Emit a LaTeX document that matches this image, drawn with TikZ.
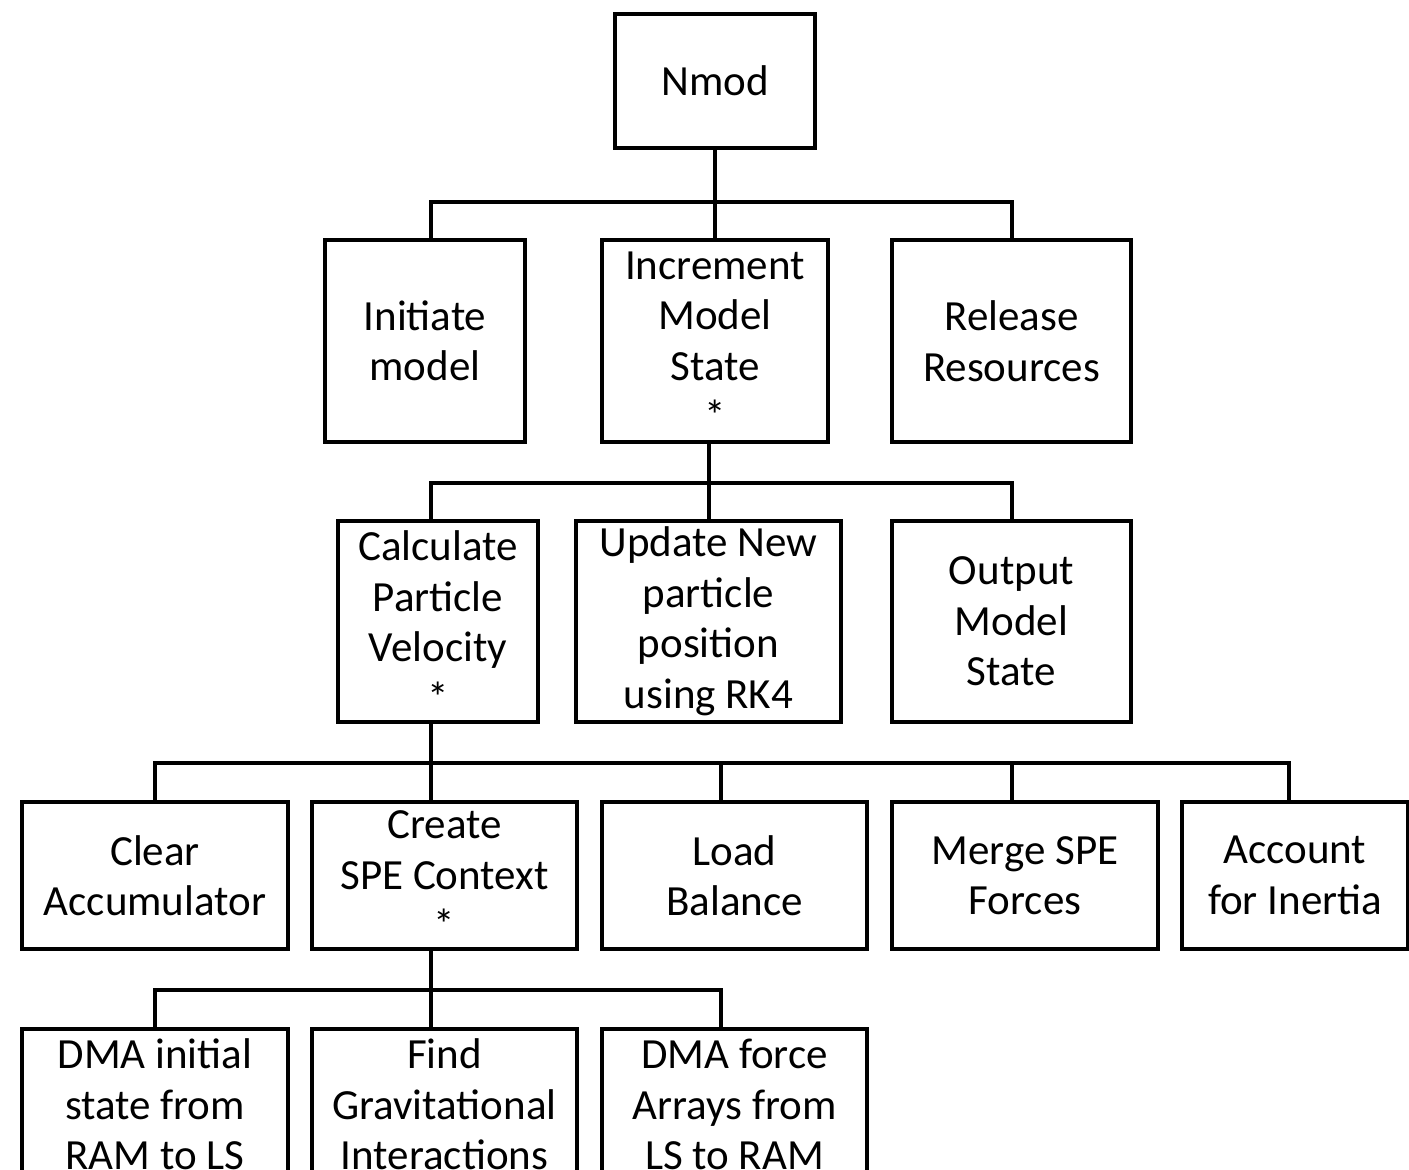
\documentclass[tikz,border=0pt]{standalone}
\usepackage{fontspec}
\setmainfont{Carlito}
\begin{document}
\begin{tikzpicture}[x=1pt,y=-1pt,
  box/.style={draw, line width=4pt, rectangle, inner sep=0pt, align=center,
    font=\fontsize{43}{50.5}\selectfont},
  link/.style={line width=4pt}]
\useasboundingbox (0,0) rectangle (1409,1170);
\clip (0,0) rectangle (1409,1170);

% level 0
\node[box, minimum width=200pt, minimum height=134pt] (nmod) at (715,81) {Nmod};

% level 1
\node[box, minimum width=200pt, minimum height=202pt] (init) at (425,341) {Initiate\\model};
\node[box, minimum width=226pt, minimum height=202pt] (inc) at (715,341) {Increment\\Model\\State\\*};
\node[box, minimum width=239pt, minimum height=202pt] (rel) at (1011.5,341) {Release\\Resources};

% level 2
\node[box, minimum width=200pt, minimum height=201pt] (calc) at (438,621.5) {Calculate\\Particle\\Velocity\\*};
\node[box, minimum width=265pt, minimum height=201pt] (upd) at (708.5,621.5) {Update New\\particle\\position\\using RK4};
\node[box, minimum width=239pt, minimum height=201pt] (out) at (1011.5,621.5) {Output\\Model\\State};

% level 3
\node[box, minimum width=266pt, minimum height=147pt] (clear) at (155,875.5) {Clear\\Accumulator};
\node[box, minimum width=265pt, minimum height=147pt] (create) at (444.5,875.5) {Create\\SPE Context\\*};
\node[box, minimum width=265pt, minimum height=147pt] (load) at (734.5,875.5) {Load\\Balance};
\node[box, minimum width=266pt, minimum height=147pt] (merge) at (1025,875.5) {Merge SPE\\Forces};
\node[box, minimum width=226pt, minimum height=147pt] (acct) at (1295,875.5) {Account\\for Inertia};

% level 4 (runs past the lower edge of the page)
\node[box, minimum width=266pt, minimum height=151pt] (dmaa) at (155,1104.5) {DMA initial\\state from\\RAM to LS};
\node[box, minimum width=265pt, minimum height=151pt] (find) at (444.5,1104.5) {Find\\Gravitational\\Interactions};
\node[box, minimum width=265pt, minimum height=151pt] (dmab) at (734.5,1104.5) {DMA force\\Arrays from\\LS to RAM};

% junction points on the horizontal bars
\coordinate (a0) at (715,202);  \coordinate (a1) at (431,202);  \coordinate (a2) at (1012,202);
\coordinate (b0) at (709,483);  \coordinate (b1) at (431,483);  \coordinate (b2) at (1012,483);
\coordinate (c0) at (431,763);  \coordinate (c1) at (155,763);  \coordinate (c2) at (721,763);
\coordinate (c3) at (1012,763); \coordinate (c4) at (1289,763);
\coordinate (d0) at (431,990);  \coordinate (d1) at (155,990);  \coordinate (d2) at (721,990);

% Nmod -> level 1
\draw[link] (nmod.south) -- (inc.north);
\draw[link] (init.north -| a1) -- (a1) -- (a2) -- (rel.north -| a2);

% Increment Model State -> level 2
\draw[link] (inc.south -| b0) -- (upd.north -| b0);
\draw[link] (calc.north -| b1) -- (b1) -- (b2) -- (out.north -| b2);

% Calculate Particle Velocity -> level 3
\draw[link] (calc.south -| c0) -- (create.north -| c0);
\draw[link] (clear.north -| c1) -- (c1) -- (c4) -- (acct.north -| c4);
\draw[link] (c2) -- (load.north -| c2);
\draw[link] (c3) -- (merge.north -| c3);

% Create SPE Context -> level 4
\draw[link] (create.south -| d0) -- (find.north -| d0);
\draw[link] (dmaa.north -| d1) -- (d1) -- (d2) -- (dmab.north -| d2);
\end{tikzpicture}
\end{document}
